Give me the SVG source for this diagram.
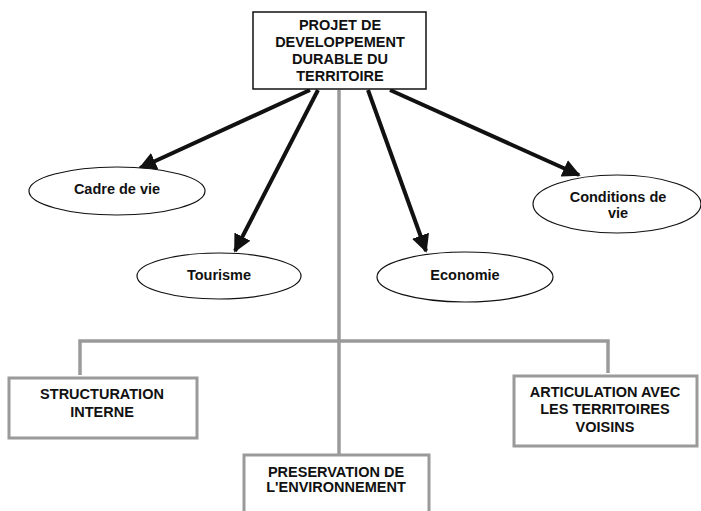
<svg xmlns="http://www.w3.org/2000/svg" width="701" height="511" viewBox="0 0 701 511">
<style>
text{font-family:"Liberation Sans",Arial,sans-serif;font-weight:bold;font-size:14.5px;fill:#111;text-anchor:middle}
.ell{fill:#fff;stroke:#111;stroke-width:1.2}
.gbox{fill:#fff;stroke:#9a9a9a;stroke-width:3}
.arrow{stroke:#111;stroke-width:4;fill:none;marker-end:url(#ah)}
.tree{stroke:#9a9a9a;stroke-width:3.5;fill:none}
</style>
<defs>
<marker id="ah" viewBox="0 0 10 10" refX="9" refY="5" markerWidth="4.5" markerHeight="4.5" orient="auto" markerUnits="strokeWidth">
<path d="M0,0 L10,5 L0,10 z" fill="#111"/>
</marker>
</defs>
<rect width="701" height="511" fill="#fff"/>
<g id="connectors">
<path class="tree" d="M339,90 V455"/>
<path class="tree" d="M80,375 V341 H608 V373"/>
<line class="arrow" x1="310" y1="90" x2="140" y2="168"/>
<line class="arrow" x1="318" y1="90" x2="235" y2="251"/>
<line class="arrow" x1="368" y1="90" x2="426" y2="251"/>
<line class="arrow" x1="390" y1="90" x2="579" y2="175"/>
</g>
<g id="projet">
<rect x="253" y="12" width="173" height="77" fill="#fff" stroke="#111" stroke-width="1.5"/>
<text x="340" y="30">PROJET DE</text>
<text x="340" y="47">DEVELOPPEMENT</text>
<text x="340" y="64">DURABLE DU</text>
<text x="340" y="81">TERRITOIRE</text>
</g>
<g id="cadre">
<ellipse class="ell" cx="117" cy="191" rx="88" ry="24"/>
<text x="117" y="194">Cadre de vie</text>
</g>
<g id="tourisme">
<ellipse class="ell" cx="219" cy="276" rx="82" ry="23"/>
<text x="219" y="280">Tourisme</text>
</g>
<g id="economie">
<ellipse class="ell" cx="465" cy="277" rx="88" ry="25"/>
<text x="465" y="280">Economie</text>
</g>
<g id="conditions">
<ellipse class="ell" cx="617" cy="204" rx="84" ry="29"/>
<text x="618" y="202">Conditions de</text>
<text x="618" y="218">vie</text>
</g>
<g id="structuration">
<rect class="gbox" x="9" y="378" width="188" height="60"/>
<text x="102" y="399">STRUCTURATION</text>
<text x="102" y="417">INTERNE</text>
</g>
<g id="articulation">
<rect class="gbox" x="514" y="376" width="183" height="70"/>
<text x="605" y="397">ARTICULATION AVEC</text>
<text x="605" y="414">LES TERRITOIRES</text>
<text x="605" y="432">VOISINS</text>
</g>
<g id="preservation">
<rect class="gbox" x="244" y="455" width="185" height="70"/>
<text x="336" y="477">PRESERVATION DE</text>
<text x="336" y="492">L'ENVIRONNEMENT</text>
</g>
</svg>
